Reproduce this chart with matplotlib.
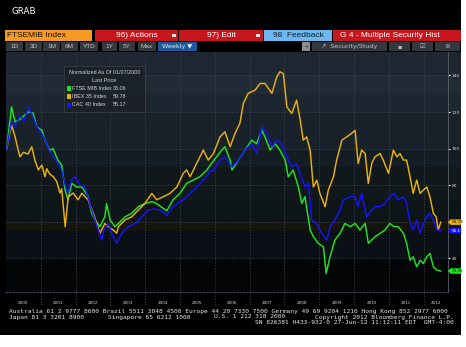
import matplotlib
matplotlib.use('Agg')
import matplotlib.pyplot as plt
from matplotlib.patches import Rectangle, Polygon
from matplotlib import transforms

# weekly closes normalized to 100 on 01/07/2000 (decimal years)
ftse_t = [2000.02, 2000.16, 2000.26, 2000.40, 2000.52, 2000.64, 2000.78, 2000.88,
          2001.03, 2001.12, 2001.26, 2001.35, 2001.49, 2001.60, 2001.70, 2001.78, 2001.89,
          2002.03, 2002.18, 2002.36, 2002.46, 2002.56, 2002.70, 2002.84, 2002.89, 2002.99,
          2003.13, 2003.23, 2003.42, 2003.61, 2003.80, 2003.99,
          2004.19, 2004.28, 2004.43, 2004.62, 2004.80,
          2005.00, 2005.19, 2005.38, 2005.57, 2005.77, 2005.91,
          2006.05, 2006.20, 2006.29, 2006.44, 2006.49, 2006.68, 2006.87,
          2007.06, 2007.20, 2007.35, 2007.44, 2007.59, 2007.73, 2007.87,
          2008.02, 2008.11, 2008.25, 2008.40, 2008.50, 2008.59, 2008.74, 2008.83, 2008.97,
          2009.12, 2009.20, 2009.31, 2009.45, 2009.60, 2009.74, 2009.89,
          2010.03, 2010.17, 2010.32, 2010.41, 2010.51, 2010.60, 2010.75, 2010.89,
          2011.03, 2011.15, 2011.27, 2011.42, 2011.51, 2011.61, 2011.70, 2011.80, 2011.90, 2011.99,
          2012.09, 2012.18, 2012.28, 2012.38, 2012.49]
ftse_v = [100, 122.8, 114.6, 116, 118, 120, 119.4, 111.9,
          110, 104.6, 99, 100, 93.7, 91, 77.3, 72, 81,
          79, 79, 73.7, 64.6, 61, 57.3, 62.7, 70, 61,
          57.3, 59, 62.7, 64.6, 68.2, 70,
          71, 70.5, 68.5, 66, 72,
          75.5, 81, 82.8, 84.6, 88.3, 92,
          95.5, 99.2, 101, 93.7, 88.3, 93.7, 99.2,
          104.6, 102.7, 110, 106.4, 99.2, 102.7, 99.2,
          93.7, 84.6, 88.3, 79, 70, 73.7, 55.5, 51.9, 48.2,
          46.3, 31.8, 40.9, 50, 53.7, 59.1, 57.3,
          59.1, 55.5, 59.1, 48.2, 50, 51.8, 53.7, 55.5,
          59.1, 57.3, 57.3, 53.7, 48.2, 39, 40.9, 35.4, 39, 37.2,
          40.9, 42.7, 35.4, 33.6, 33.06]

ibex_t = [2000.02, 2000.16, 2000.26, 2000.34, 2000.40, 2000.50, 2000.63, 2000.74, 2000.83, 2000.93,
          2001.03, 2001.12, 2001.17, 2001.26, 2001.36, 2001.46, 2001.55, 2001.60, 2001.70, 2001.79, 2001.93,
          2002.07, 2002.18, 2002.36, 2002.51, 2002.70, 2002.84, 2002.94,
          2003.08, 2003.18, 2003.23, 2003.42, 2003.61, 2003.80, 2003.99,
          2004.19, 2004.33, 2004.52, 2004.71, 2004.91,
          2005.09, 2005.19, 2005.29, 2005.48, 2005.67, 2005.81, 2005.96,
          2006.15, 2006.29, 2006.44, 2006.58, 2006.72, 2006.82, 2006.96,
          2007.16, 2007.30, 2007.44, 2007.64, 2007.78, 2007.87, 2007.97,
          2008.07, 2008.21, 2008.35, 2008.45, 2008.54, 2008.64, 2008.74, 2008.83, 2008.93,
          2009.02, 2009.17, 2009.26, 2009.41, 2009.50, 2009.65, 2009.79, 2009.93,
          2010.03, 2010.12, 2010.22, 2010.32, 2010.41, 2010.51, 2010.60, 2010.75, 2010.84, 2010.99,
          2011.13, 2011.23, 2011.32, 2011.42, 2011.51, 2011.61, 2011.70, 2011.80, 2011.90, 2011.99,
          2012.09, 2012.18, 2012.28, 2012.36, 2012.42, 2012.49]
ibex_v = [100, 112.8, 106.5, 100, 95.5, 98, 97, 101, 93.7, 88.3,
          91, 84.6, 89, 86, 84.6, 81.9, 75.7, 78, 57.3, 73.7, 75.7,
          72, 75.6, 71.9, 64.6, 53.7, 59, 57.3,
          55.5, 53.7, 57.3, 61, 62.7, 66.4, 70,
          75.5, 72, 73.7, 75.5, 79,
          86.4, 88.3, 84.6, 92, 99.2, 93.7, 97.3,
          106.4, 109.2, 101, 108.3, 113.8, 124.7, 130.2,
          132, 135.6, 135.6, 130.2, 139.2, 142, 141,
          122.8, 119.2, 126.5, 116, 104.6, 106.4, 99, 79, 82.8,
          75.5, 68.2, 77.3, 84.6, 93.7, 104.6, 106.4, 108.3,
          110, 91.9, 99.2, 97.3, 81, 92, 95.5, 97.3, 93.7, 86.4,
          99.2, 95.5, 97.3, 93.7, 93.7, 84.6, 75.5, 82.8, 75.5, 77.3,
          79, 73.7, 64.6, 62.7, 55.5, 59.78]

cac_t = [2000.02, 2000.16, 2000.26, 2000.40, 2000.52, 2000.64, 2000.78, 2000.88,
         2001.03, 2001.12, 2001.26, 2001.35, 2001.49, 2001.60, 2001.70, 2001.78, 2001.89, 2001.98,
         2002.13, 2002.27, 2002.46, 2002.65, 2002.75, 2002.82, 2002.94,
         2003.05, 2003.18, 2003.32, 2003.51, 2003.71, 2003.90,
         2004.09, 2004.28, 2004.43, 2004.62, 2004.80,
         2005.09, 2005.29, 2005.48, 2005.67, 2005.81, 2005.86, 2005.96,
         2006.15, 2006.29, 2006.41, 2006.49, 2006.68, 2006.87,
         2007.06, 2007.20, 2007.35, 2007.49, 2007.64, 2007.78, 2007.92,
         2008.07, 2008.21, 2008.35, 2008.45, 2008.59, 2008.69, 2008.78, 2008.93,
         2009.07, 2009.22, 2009.31, 2009.45, 2009.60, 2009.69, 2009.89,
         2010.03, 2010.12, 2010.22, 2010.36, 2010.51, 2010.60, 2010.75, 2010.89,
         2011.03, 2011.13, 2011.27, 2011.42, 2011.51, 2011.61, 2011.70, 2011.80, 2011.90, 2011.99,
         2012.09, 2012.18, 2012.28, 2012.38, 2012.49]
cac_v = [100, 115, 112, 118, 115, 122.8, 117, 112,
         108, 105, 98, 96, 92, 88, 80, 76, 83, 84.6,
         80, 79, 66.4, 55.5, 50, 56, 59,
         53, 48.2, 53.7, 57.3, 59, 62.7,
         66.4, 67, 66.4, 63.6, 68.2,
         72, 75.5, 79, 82.8, 86, 88, 88,
         93.7, 95.5, 92, 90, 93.7, 99.2,
         102.7, 97.3, 111.9, 108.3, 101, 104.6, 102.7,
         95.5, 90, 91.8, 86.4, 79, 81, 61, 59,
         53.7, 50, 57.3, 61, 66.4, 71.9, 73.7,
         73.7, 68.2, 75.5, 62.7, 66.4, 68.2, 68.2, 70,
         73.7, 75.5, 72, 73.7, 70, 59.1, 55.5, 61, 53.7, 59,
         62.7, 64.6, 61, 55.5, 55.17]

names = ['FTSE MIB Index', 'IBEX 35 Index', 'CAC 40 Index']
last_px = [33.06, 59.78, 55.17]
colors = ['#1ee61e', '#e8b10c', '#1414ff']
years = list(range(2000, 2013))
yticks = [40, 60, 80, 100, 120, 140]

W, H = 466, 347
fig = plt.figure(figsize=(W / 100, H / 100), dpi=100, facecolor='white')

# base layer, pixel coordinates
base = fig.add_axes([0, 0, 1, 1], zorder=0)
base.set_xlim(0, W)
base.set_ylim(H, 0)
base.axis('off')


def box(a, x0, y0, x1, y1, fc, ec='none', lw=0, alpha=1):
    a.add_patch(Rectangle((x0, y0), x1 - x0, y1 - y0, facecolor=fc, edgecolor=ec, lw=lw, alpha=alpha))


box(base, 0, 0, 461, 335, 'black')
base.text(11, 11.5, 'GRAB', color='white', fontsize=6.3, va='center', family='DejaVu Sans')

# toolbar row 1
hdr = dict(fontsize=6, va='center', family='Liberation Sans')
box(base, 5, 29.5, 92, 40.5, '#f59a23')
base.text(7, 35, 'FTSEMIB Index', color='#1a1000', **hdr)
box(base, 95, 29.5, 178, 40.5, '#c8161e')
base.text(137, 35, '96) Actions', color='white', ha='center', **hdr)
box(base, 172, 33.5, 176, 36.5, '#e0e0e0')
box(base, 179, 29.5, 263, 40.5, '#c8161e')
base.text(221, 35, '97) Edit', color='white', ha='center', **hdr)
box(base, 256, 33.5, 260, 36.5, '#e0e0e0')
box(base, 264, 29.5, 332, 40.5, '#6cb8f0')
base.text(298, 35, '98  Feedback', color='#10202c', ha='center', **hdr)
box(base, 333, 29.5, 461, 40.5, '#c8161e')
base.text(340, 35, 'G 4 - Multiple Security Hist', color='white', **hdr)

# toolbar row 2
btns = [('1D', 6, 23), ('3D', 25, 42), ('1M', 43, 60), ('6M', 61, 78), ('YTD', 80, 98),
        ('1Y', 102, 117), ('5Y', 119, 135), ('Max', 138, 156)]
for lab, x0, x1 in btns:
    box(base, x0, 42, x1, 51, '#33383e')
    base.text((x0 + x1) / 2, 46.6, lab, color='#c0c4c8', ha='center', va='center', fontsize=4.6,
              family='Liberation Sans')
box(base, 158, 42, 197, 51, '#1d5a9c')
base.text(177, 46.6, 'Weekly \u25bc', color='#e8eef4', ha='center', va='center', fontsize=4.6,
          family='DejaVu Sans')
box(base, 302, 42, 310, 51, '#8a8e92')
base.text(306, 46.6, '\u00ab', color='#202020', ha='center', va='center', fontsize=4.6)
for x0, x1, lab in [(312, 387, '\u2197  Security/Study'), (389, 410, '\u25aa'),
                    (412, 433, '\u2611'), (435, 460, '\u2699')]:
    box(base, x0, 42, x1, 51, '#33383e')
    base.text((x0 + x1) / 2, 46.6, lab, color='#c0c4c8', ha='center', va='center', fontsize=4.6,
              family='DejaVu Sans')

# footer
ft = dict(color='#e6e6e6', fontsize=4.5, family='DejaVu Sans Mono', va='center')
base.text(9, 311, 'Australia 61 2 9777 8600 Brazil 5511 3048 4500 Europe 44 20 7330 7500 '
                  'Germany 49 69 9204 1210 Hong Kong 852 2977 6000', **ft)
base.text(9, 317, 'Japan 81 3 3201 8900', **ft)
base.text(108, 317, 'Singapore 65 6212 1000', **ft)
base.text(214, 317, 'U.S. 1 212 318 2000', **ft)
base.text(454, 317, 'Copyright 2012 Bloomberg Finance L.P.', ha='right', **ft)
base.text(454, 323, 'SN 826381 H433-932-0 27-Jun-12 11:12:11 EDT  GMT-4:00', ha='right', **ft)

ylo, yhi = 21.6, 152.8
x0, x1 = 2000.0, 2012.70

# banded backdrop behind the plot
bg = fig.add_axes([6 / W, 55 / H, 455 / W, 240 / H], zorder=1)
bg.set_ylim(ylo, yhi)
bg.set_xlim(0, 1)
bg.axis('off')
bands = [(140, 152.8, '#1e2731'), (130, 140, '#212b35'), (120, 130, '#1c2630'),
         (100, 120, '#19222b'), (90, 100, '#151d24'), (72, 90, '#11181c'),
         (60, 72, '#0e1519'), (55, 60, '#16140f'), (40, 55, '#0b0f16'), (21.6, 40, '#040507')]
for lo, hi, c in bands:
    bg.axhspan(lo, hi, color=c, lw=0)

ax = fig.add_axes([6 / W, 55 / H, 442 / W, 240 / H], zorder=2)
ax.set_facecolor('none')
ax.set_xlim(x0, x1)
ax.set_ylim(ylo, yhi)

for y in yticks:
    ax.axhline(y, color='#3e4852', lw=0.5, dashes=(2, 2), zorder=1)
for yr in years[1:]:
    ax.axvline(yr, ymin=-13 / 240, ymax=1, color='#3e4852', lw=0.5, dashes=(2, 2),
               zorder=1, clip_on=False)
for yr in years:
    mid = (yr + min(yr + 1, x1)) / 2
    ax.text(mid, -11 / 240, str(yr), transform=ax.get_xaxis_transform(), ha='center',
            va='center', color='#d8d8d8', fontsize=3)

ax.plot(ftse_t, ftse_v, color=colors[0], lw=1.05, zorder=3)
ax.plot(ibex_t, ibex_v, color=colors[1], lw=1.05, zorder=3)
ax.plot(cac_t, cac_v, color=colors[2], lw=1.05, zorder=3)

for s in ['left', 'top']:
    ax.spines[s].set_visible(False)
ax.spines['right'].set_color('#5a6068')
ax.spines['right'].set_linewidth(0.6)
ax.spines['bottom'].set_color('#50565e')
ax.spines['bottom'].set_linewidth(0.6)
ax.spines['bottom'].set_linestyle((0, (2, 2)))
ax.set_xticks([])
ax.yaxis.tick_right()
ax.set_yticks(yticks)
# the 60 label sits under the IBEX price flag
ax.set_yticklabels(['' if v == 60 else str(v) for v in yticks])
ax.tick_params(axis='y', colors='white', length=1.5, width=0.8, pad=1, labelsize=3.2,
               labelcolor='#d8d8d8')

# last price flags on the right edge
tr = transforms.blended_transform_factory(ax.transAxes, ax.transData)
tag_text = ['#062006', '#201400', 'white']
for val, c, tc in zip(last_px, colors, tag_text):
    h = 1.5
    pts = [(1.0, val), (1.006, val + h), (1.03, val + h), (1.03, val - h), (1.006, val - h)]
    ax.add_patch(Polygon(pts, closed=True, facecolor=c, edgecolor='none', transform=tr,
                         clip_on=False, zorder=5))
    ax.text(1.0075, val, '%.2f' % val, transform=tr, color=tc, fontsize=3, va='center',
            ha='left', zorder=6, clip_on=False)

# legend panel
top = fig.add_axes([0, 0, 1, 1], zorder=3)
top.set_xlim(0, W)
top.set_ylim(H, 0)
top.axis('off')
top.set_facecolor('none')
box(top, 64, 66, 145, 112, '#1b2127', ec='#3c434a', lw=0.5, alpha=0.9)
lg = dict(color='#d4d4d4', fontsize=3.9, va='center', family='Liberation Sans')
top.text(104.5, 72.5, 'Normalized As Of 01/07/2000', ha='center', **lg)
top.text(104.5, 80.5, 'Last Price', ha='center', **lg)
for i, (nm, val, c) in enumerate(zip(names, last_px, colors)):
    yy = 88.5 + i * 8.2
    box(top, 67, yy - 2.3, 71, yy + 2.3, c)
    top.text(72, yy, nm, **lg)
    top.text(126.5, yy, '%.2f' % val, ha='right', **lg)

fig.savefig('out.png', dpi=100, facecolor='white')
